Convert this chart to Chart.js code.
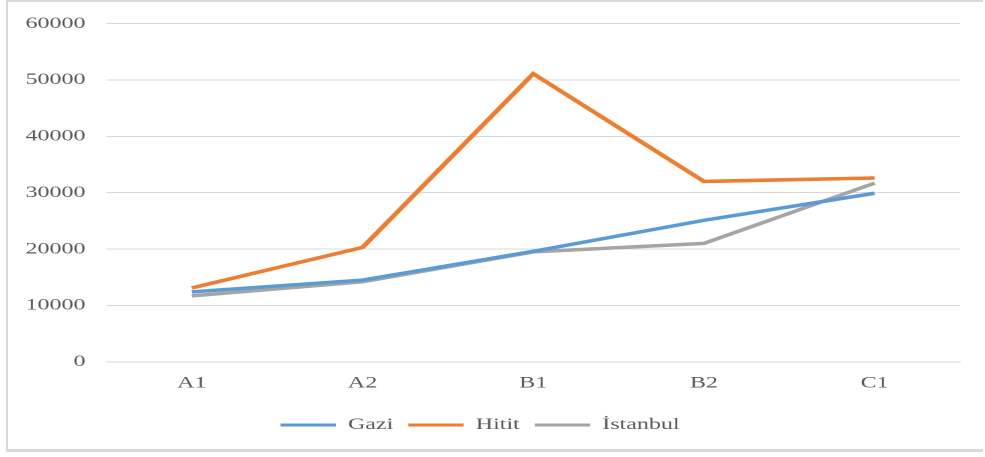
<!DOCTYPE html>
<html>
<head>
<meta charset="utf-8">
<script src="https://cdn.jsdelivr.net/npm/chart.js@4/dist/chart.umd.min.js"></script>
<style>
  html, body { margin: 0; padding: 0; background: #fff; }
  #wrap {
    position: absolute; left: 6px; top: 0; width: 977px; height: 452px;
    border-left: 2px solid #d9d9d9; border-top: 2px solid #d9d9d9; border-bottom: 3px solid #d9d9d9;
    box-sizing: border-box;
  }
  /* the reference is stretched sideways, so draw narrow and widen */
  #stretch { position: absolute; left: 0; top: 0; width: 657px; height: 457px;
    transform: scaleX(1.5); transform-origin: 0 0; }
</style>
</head>
<body>
<div id="wrap"></div>
<div id="stretch"><canvas id="c" width="657" height="457"></canvas></div>
<script>
const categories = ["A1", "A2", "B1", "B2", "C1"];
const gazi = [12400, 14500, 19600, 25100, 29900];
const hitit = [13100, 20300, 51100, 32000, 32600];
const istanbul = [11700, 14200, 19500, 21000, 31700];

const textColor = "#595959";
const serif = "'Liberation Serif', 'Times New Roman', serif";

function series(label, data, color) {
    return {
        label: label,
        data: data,
        borderColor: color,
        backgroundColor: color,
        borderWidth: 3.5,
        pointRadius: 0,
        tension: 0
    };
}

const ctx = document.getElementById("c").getContext("2d");
new Chart(ctx, {
    type: "line",
    data: {
        labels: categories,
        datasets: [
            series("Gazi", gazi, "#5B9BD5"),
            series("Hitit", hitit, "#ED7D31"),
            series("İstanbul", istanbul, "#A5A5A5")
        ]
    },
    options: {
        responsive: false,
        animation: false,
        devicePixelRatio: 2,
        layout: { padding: { left: 0, right: 17, top: 5, bottom: 14 } },
        plugins: {
            tooltip: { enabled: false },
            legend: {
                position: "bottom",
                labels: {
                    color: textColor,
                    font: { family: serif, size: 16 },
                    boxWidth: 37,
                    boxHeight: 3,
                    padding: 10,
                    generateLabels: (chart) => Chart.defaults.plugins.legend.labels.generateLabels(chart)
                        .map(l => Object.assign(l, { lineWidth: 0 }))
                }
            }
        },
        scales: {
            x: {
                offset: true,
                afterFit: (s) => { s.height += 10; },
                grid: { display: false },
                border: { display: true, color: "#d9d9d9", width: 1 },
                ticks: { color: textColor, font: { family: serif, size: 16 }, padding: 4 }
            },
            y: {
                min: 0,
                max: 60000,
                afterFit: (s) => { s.width = 71; },
                grid: { color: "#d9d9d9", lineWidth: 1, drawTicks: false },
                border: { display: false },
                ticks: {
                    stepSize: 10000,
                    callback: (v) => String(v),
                    color: textColor,
                    font: { family: serif, size: 16 },
                    padding: 14
                }
            }
        }
    }
});
</script>
</body>
</html>
